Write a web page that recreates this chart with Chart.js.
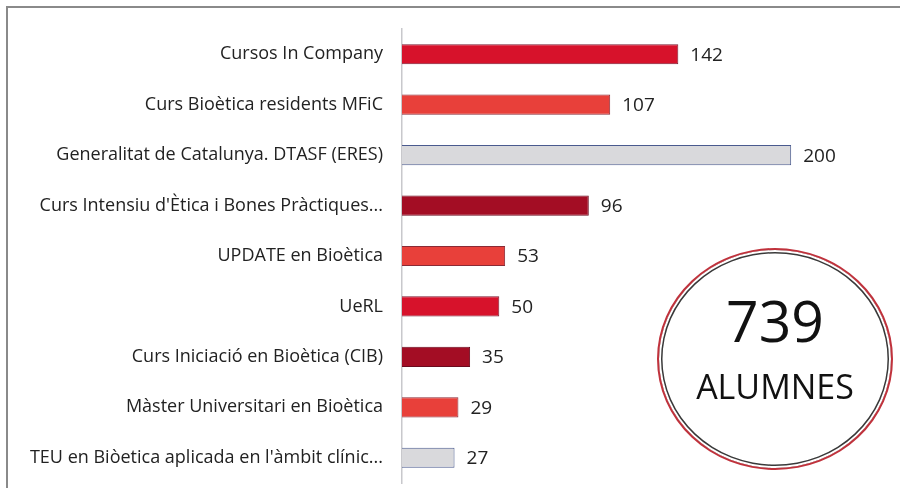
<!DOCTYPE html>
<html>
<head>
<meta charset="utf-8">
<script src="https://cdn.jsdelivr.net/npm/chart.js@4"></script>
<style>
  html, body { margin: 0; padding: 0; background: #fff; }
  #wrap { position: relative; width: 900px; height: 488px; overflow: hidden; }
  #frame { position: absolute; left: 6px; top: 6px; width: 900px; height: 490px;
           border-top: 2px solid #8a8a8a; border-left: 2px solid #8a8a8a; }
  #total { position: absolute; left: 657px; top: 248px; width: 232px; height: 218px;
           border-radius: 50%; border: 2.5px solid #c0323c;
           box-shadow: inset 0 0 0 2px #fff, inset 0 0 0 3.5px #3a3a3a;
           font-family: "Open Sans", sans-serif; color: #111; text-align: center; }
  #total .num { position: absolute; left: 0; right: 0; top: 35px; font-size: 57px; line-height: 70px; }
  #total .lbl { position: absolute; left: 0; right: 0; top: 116px; font-size: 34px; line-height: 40px; }
</style>
</head>
<body>
<div id="wrap">
  <canvas id="chart" width="900" height="488"></canvas>
  <div id="frame"></div>
  <div id="total"><div class="num">739</div><div class="lbl">ALUMNES</div></div>
</div>
<script>
const categories = [
  'Cursos In Company',
  'Curs Bioètica residents MFiC',
  'Generalitat de Catalunya. DTASF (ERES)',
  "Curs Intensiu d'Ètica i Bones Pràctiques...",
  'UPDATE en Bioètica',
  'UeRL',
  'Curs Iniciació en Bioètica (CIB)',
  'Màster Universitari en Bioètica',
  "TEU en Biòetica aplicada en l'àmbit clínic..."
];
const alumnes = [142, 107, 200, 96, 53, 50, 35, 29, 27];
const barColors = ['#d7122b', '#e8403a', '#d9d9dc', '#a30d24', '#e8403a', '#d7122b', '#a30d24', '#e8403a', '#d9d9dc'];
const barBorders = ['#7a1a30', '#8a2a35', '#4a5a8e', '#6a0a1e', '#8a2a35', '#7a1a30', '#6a0a1e', '#8a2a35', '#4a5a8e'];

// number to the right of each bar
const valueLabels = {
  id: 'valueLabels',
  afterDatasetsDraw(chart) {
    const ctx = chart.ctx;
    const meta = chart.getDatasetMeta(0);
    ctx.save();
    ctx.font = '19px "Open Sans", sans-serif';
    ctx.fillStyle = '#222';
    ctx.textBaseline = 'middle';
    meta.data.forEach((bar, i) => {
      ctx.fillText(alumnes[i], bar.x + 12, bar.y + 1);
    });
    ctx.restore();
  }
};

new Chart(document.getElementById('chart'), {
  type: 'bar',
  data: {
    labels: categories,
    datasets: [{
      data: alumnes,
      backgroundColor: barColors,
      borderColor: barBorders,
      borderWidth: 1,
      categoryPercentage: 0.8,
      barPercentage: 0.5
    }]
  },
  options: {
    indexAxis: 'y',
    responsive: false,
    animation: false,
    layout: { padding: { left: 0, right: 31, top: 29, bottom: 5 } },
    plugins: { legend: { display: false }, tooltip: { enabled: false } },
    scales: {
      x: { display: false, min: 0, max: 240 },
      y: {
        grid: { display: false, drawTicks: false },
        border: { display: true, color: '#c8c8cc', width: 1.5 },
        ticks: {
          color: '#222',
          padding: 19,
          font: { family: '"Open Sans", sans-serif', size: 18 }
        },
        afterFit(scale) {
          scale.width = 402;
          scale.paddingTop = 0;
          scale.paddingBottom = 0;
        }
      }
    }
  },
  plugins: [valueLabels]
});
</script>
</body>
</html>
